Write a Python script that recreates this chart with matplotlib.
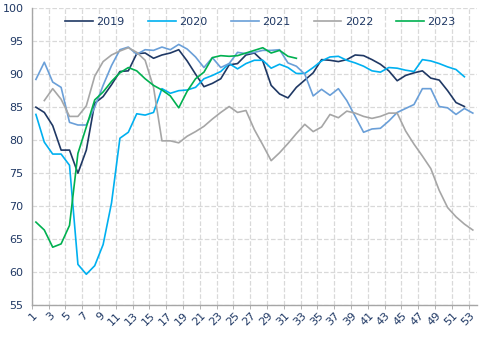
import numpy as np
from matplotlib import pyplot as plt

weeks = np.arange(1, 54)

y2019 = [85.0, 84.2, 82.2, 78.5, 78.5, 75.0, 78.5, 85.6, 86.6, 88.4,
         90.4, 90.5, 93.1, 93.2, 92.4, 92.9, 93.2, 93.7, 92.0, 90.0,
         88.1, 88.6, 89.3, 91.4, 91.6, 92.9, 93.2, 92.0, 88.3, 87.0,
         86.4, 88.0, 89.1, 90.2, 92.2, 92.1, 91.9, 92.2, 92.9, 92.8,
         92.2, 91.5, 90.5, 89.0, 89.8, 90.2, 90.5, 89.4, 89.1, 87.5,
         85.7, 85.1]
y2020 = [83.9, 79.7, 77.9, 77.9, 76.2, 61.2, 59.7, 61.0, 64.2, 70.5,
         80.3, 81.2, 84.0, 83.8, 84.2, 87.8, 87.1, 87.5, 87.6, 88.0,
         89.3, 89.8, 90.4, 91.6, 90.8, 91.6, 92.1, 92.1, 90.9, 91.5,
         91.0, 90.1, 90.1, 91.0, 92.0, 92.6, 92.7, 92.1, 91.7, 91.2,
         90.5, 90.3, 91.0, 90.9, 90.6, 90.4, 92.2, 92.0, 91.6, 91.1,
         90.7, 89.6]
y2021 = [89.2, 91.8, 88.8, 88.0, 82.7, 82.3, 82.3, 85.0, 88.3, 91.3,
         93.7, 94.1, 93.0, 93.7, 93.6, 94.1, 93.7, 94.5, 93.8, 92.6,
         91.0, 92.5, 91.0, 91.6, 93.3, 93.1, 93.3, 93.6, 93.6, 93.7,
         91.7, 91.2, 90.0, 86.7, 87.7, 86.8, 87.8, 86.0, 83.6, 81.2,
         81.7, 81.8, 82.9, 84.2, 84.8, 85.4, 87.8, 87.8, 85.1, 84.9,
         83.9, 84.8, 84.1]
# 2022 starts at week 2
y2022 = [86.0, 87.8, 86.2, 83.6, 83.6, 85.2, 89.7, 91.9, 92.9, 93.5,
         94.0, 93.3, 92.1, 88.0, 79.9, 79.9, 79.6, 80.6, 81.3, 82.1,
         83.2, 84.2, 85.1, 84.2, 84.5, 81.6, 79.3, 76.9, 78.1, 79.5,
         81.0, 82.4, 81.3, 82.0, 83.9, 83.4, 84.4, 84.1, 83.6, 83.3,
         83.6, 84.1, 84.1, 81.4, 79.4, 77.6, 75.7, 72.4, 69.8, 68.4,
         67.3, 66.4]
y2023 = [67.6, 66.4, 63.8, 64.3, 67.1, 78.0, 82.0, 86.1, 87.3, 88.9,
         90.2, 91.0, 90.5, 89.3, 88.3, 87.6, 86.7, 84.9, 87.4, 89.3,
         90.3, 92.5, 92.8, 92.7, 92.8, 93.2, 93.6, 94.0, 93.2, 93.6,
         92.7, 92.4]

navy = '#1f3864'

fig = plt.figure(figsize=(4.9, 3.37), dpi=100)
ax = fig.add_axes([0.0647, 0.094, 0.9088, 0.882])

lw = 1.2
ax.plot(weeks[:len(y2019)], y2019, color=navy, lw=lw, label='2019')
ax.plot(weeks[:len(y2020)], y2020, color='#00b0f0', lw=lw, label='2020')
ax.plot(weeks[:len(y2021)], y2021, color='#6a9fd8', lw=lw, label='2021')
ax.plot(weeks[1:1 + len(y2022)], y2022, color='#a6a6a6', lw=lw, label='2022')
ax.plot(weeks[:len(y2023)], y2023, color='#00b050', lw=lw, label='2023')

ax.set_xlim(0.5, 53.5)
ax.set_ylim(55, 100)
ax.set_yticks(np.arange(55, 101, 5))
ax.set_xticks(np.arange(1, 54, 2))
ax.set_xticks(np.arange(0.5, 53, 2), minor=True)
ax.set_xticklabels([str(w) for w in range(1, 54, 2)], rotation=45,
                   ha='right', va='center', rotation_mode='anchor')

ax.tick_params(axis='x', which='major', length=0, pad=6, labelsize=8, labelcolor=navy)
ax.tick_params(axis='x', which='minor', length=3, color='#a6a6a6')
ax.tick_params(axis='y', length=0, pad=6, labelsize=8, labelcolor=navy)

ax.grid(axis='y', color='#d9d9d9', ls='--', lw=0.9)
ax.grid(axis='x', which='minor', color='#d9d9d9', ls='--', lw=0.9)

for s in ['top', 'right']:
    ax.spines[s].set_visible(False)
for s in ['left', 'bottom']:
    ax.spines[s].set_color('#a6a6a6')
    ax.spines[s].set_linewidth(1.0)

leg = ax.legend(loc='center', bbox_to_anchor=(0.514, 0.954), ncol=5, frameon=False,
                fontsize=8, handlelength=2.5, handletextpad=0.3, columnspacing=2.1,
                borderaxespad=0)
for t in leg.get_texts():
    t.set_color(navy)

fig.savefig('out.png', dpi=100)
